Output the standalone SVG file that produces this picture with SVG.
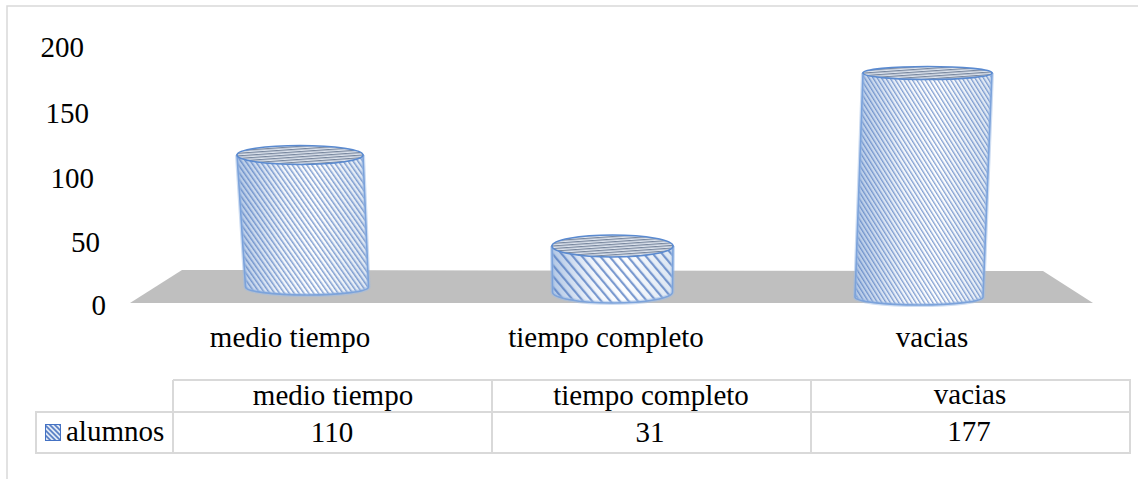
<svg xmlns="http://www.w3.org/2000/svg" width="1145" height="479" viewBox="0 0 1145 479">
<defs>
<style>
text{font-family:"Liberation Serif","Times New Roman",Tinos,"DejaVu Serif",serif;font-size:29px;fill:#000}
.c{text-anchor:middle}
.e{text-anchor:end}
.grid{fill:none;stroke:#d9d9d9;stroke-width:2}
.edge{stroke:#5a8ad0;stroke-width:1.6}
.glow{fill:none;stroke:#9dbbe6;stroke-width:4;stroke-opacity:0.5}
</style>
<linearGradient id="shade" x1="0" y1="0" x2="1" y2="0">
<stop offset="0" stop-color="#b3c8e6"/>
<stop offset="0.35" stop-color="#f1f5fb"/>
<stop offset="0.6" stop-color="#ffffff"/>
<stop offset="1" stop-color="#dbe5f2"/>
</linearGradient>
<pattern id="s4" patternUnits="userSpaceOnUse" width="4" height="20" patternTransform="rotate(-35)">
<rect x="0" y="0" width="1.5" height="20" fill="#5079c0" fill-opacity="0.7"/>
</pattern>
<pattern id="s6" patternUnits="userSpaceOnUse" width="7" height="20" patternTransform="rotate(-40)">
<rect x="0" y="0" width="2.2" height="20" fill="#5079c0" fill-opacity="0.75"/>
</pattern>
<pattern id="s3" patternUnits="userSpaceOnUse" width="3.6" height="20" patternTransform="rotate(-32)">
<rect x="0" y="0" width="1.3" height="20" fill="#5079c0" fill-opacity="0.7"/>
</pattern>
<pattern id="top" patternUnits="userSpaceOnUse" width="20" height="2.6" patternTransform="rotate(-4)">
<rect x="0" y="0" width="20" height="2.6" fill="#dde4ee"/>
<rect x="0" y="0" width="20" height="1.2" fill="#5f6f8a" fill-opacity="0.8"/>
</pattern>
<pattern id="leg" patternUnits="userSpaceOnUse" width="3.5" height="20" patternTransform="rotate(-45)">
<rect x="0" y="0" width="3.5" height="20" fill="#dfe8f5"/>
<rect x="0" y="0" width="1.6" height="20" fill="#4d76c0"/>
</pattern>
</defs>
<rect width="1145" height="479" fill="#ffffff"/>
<path d="M7,479 V6 H1138" fill="none" stroke="#d9d9d9" stroke-width="1.5"/>

<g id="floor">
<polygon points="182,270 1043,271 1093,303 130,303" fill="#bfbfbf"/>
</g>

<g id="axis">
<text class="e" x="84" y="57">200</text>
<text class="e" x="89" y="123">150</text>
<text class="e" x="94" y="188">100</text>
<text class="e" x="100" y="252">50</text>
<text class="e" x="106" y="315">0</text>
</g>

<g id="bar-medio">
<path d="M237,155 L245.5,287 A61.5,8 0 0 0 368.5,287 L363,155 Z" fill="url(#shade)"/>
<path d="M237,155 L245.5,287 A61.5,8 0 0 0 368.5,287 L363,155 Z" fill="url(#s4)" class="edge"/>
<path d="M237,155 L245.5,287 A61.5,8 0 0 0 368.5,287 L363,155" class="glow"/>
<ellipse cx="300" cy="155" rx="63" ry="9.5" fill="url(#top)" class="edge"/>
</g>

<g id="bar-completo">
<path d="M552,246 L552.5,292 A60,11 0 0 0 672.5,292 L673,246 Z" fill="url(#shade)"/>
<path d="M552,246 L552.5,292 A60,11 0 0 0 672.5,292 L673,246 Z" fill="url(#s6)" class="edge"/>
<path d="M552,246 L552.5,292 A60,11 0 0 0 672.5,292 L673,246" class="glow"/>
<ellipse cx="612.5" cy="246" rx="60.5" ry="11" fill="url(#top)" class="edge"/>
</g>

<g id="bar-vacias">
<path d="M863,73 L855,297 A64,8 0 0 0 983,297 L992,73 Z" fill="url(#shade)"/>
<path d="M863,73 L855,297 A64,8 0 0 0 983,297 L992,73 Z" fill="url(#s3)" class="edge"/>
<path d="M863,73 L855,297 A64,8 0 0 0 983,297 L992,73" class="glow"/>
<ellipse cx="927.5" cy="73" rx="64.5" ry="6.5" fill="url(#top)" class="edge"/>
</g>

<g id="categories">
<text class="c" x="290" y="347">medio tiempo</text>
<text class="c" x="606" y="347">tiempo completo</text>
<text class="c" x="932" y="347">vacias</text>
</g>

<g id="table">
<path class="grid" d="M173,380 H1130 V453 H36 V412 H1130 M173,380 V453 M492,380 V453 M811,380 V453"/>
<text class="c" x="333" y="405">medio tiempo</text>
<text class="c" x="651" y="405">tiempo completo</text>
<text class="c" x="970" y="404">vacias</text>
<rect x="45.5" y="424.5" width="15" height="16" fill="url(#leg)" stroke="#4472c4" stroke-width="1"/>
<text x="66" y="441">alumnos</text>
<text class="c" x="332" y="442">110</text>
<text class="c" x="650" y="442">31</text>
<text class="c" x="969" y="441">177</text>
</g>
</svg>
